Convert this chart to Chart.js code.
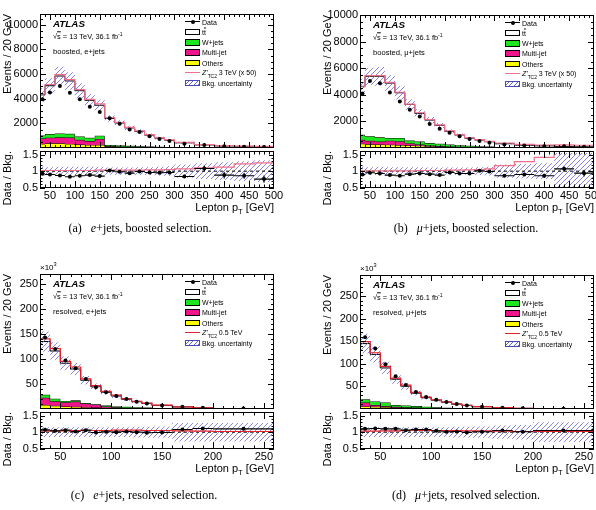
<!DOCTYPE html>
<html>
<head>
<meta charset="utf-8">
<script src="https://cdn.jsdelivr.net/npm/chart.js@4.4.0/dist/chart.umd.min.js"></script>
<style>
  html, body { margin: 0; padding: 0; background: #fff; }
  body { position: relative; width: 596px; height: 510px; overflow: hidden;
         font-family: "Liberation Sans", Arial, Helvetica, sans-serif; color: #000; }
  canvas { position: absolute; }
  .t { position: absolute; white-space: nowrap; line-height: 1; }
  sub, sup { font-size: 70%; line-height: 0; }
</style>
</head>
<body>
<script>
// ---- binning and axis labels ----
const boostEdges = [30, 40, 60, 80, 100, 120, 140, 160, 180, 200, 220, 240, 260, 280, 300, 340, 380, 420, 460, 500];
const resEdges = [30, 40, 50, 60, 70, 80, 90, 100, 110, 120, 130, 140, 160, 180, 200, 260];
const boostXLabels = [50, 100, 150, 200, 250, 300, 350, 400, 450, 500];
const resXLabels = [50, 100, 150, 200, 250];
const boostYLabels = [2000, 4000, 6000, 8000, 10000];
const resYLabels = [50, 100, 150, 200, 250];
const ratioYLabels = [0.5, 1, 1.5];

// ---- (a) e+jets boosted, events ----
const eBoostTtbar  = [3300, 3920, 4660, 4290, 3720, 3040, 2470, 2150, 1820, 1455, 1205, 935, 710, 550, 370, 215, 145, 115, 90];
const eBoostWjets  = [240, 290, 310, 300, 270, 270, 260, 90, 80, 70, 60, 50, 40, 30, 20, 15, 10, 8, 5];
const eBoostMulti  = [440, 460, 490, 520, 380, 310, 490, 8, 6, 5, 4, 3, 2, 2, 1, 1, 1, 0, 0];
const eBoostOthers = [330, 380, 380, 330, 280, 250, 250, 150, 120, 100, 80, 60, 50, 40, 30, 20, 12, 8, 5];
const eBoostData   = [3950, 4500, 5030, 4480, 3960, 3350, 2920, 2420, 1960, 1500, 1290, 960, 730, 570, 350, 250, 150, 110, 75];
const eBoostRatio  = [0.92, 0.90, 0.87, 0.83, 0.86, 0.88, 0.85, 1.02, 0.98, 0.94, 0.99, 0.96, 0.95, 0.96, 0.84, 1.08, 0.88, 0.86, 0.76];
const eBoostRatioErr = [0.015, 0.015, 0.015, 0.015, 0.015, 0.02, 0.02, 0.02, 0.02, 0.025, 0.03, 0.03, 0.035, 0.04, 0.05, 0.08, 0.1, 0.09, 0.11];
const eBoostUnc    = [0.13, 0.12, 0.13, 0.13, 0.13, 0.13, 0.13, 0.11, 0.11, 0.11, 0.12, 0.12, 0.13, 0.15, 0.2, 0.24, 0.27, 0.3, 0.33];
const eBoostSig    = [1.02, 1.02, 1.02, 1.02, 1.02, 1.02, 1.03, 1.03, 1.03, 1.03, 1.03, 1.04, 1.04, 1.05, 1.07, 1.1, 1.12, 1.22, 1.25];

// ---- (b) mu+jets boosted ----
const muBoostTtbar  = [3610, 4510, 4590, 4130, 3395, 2715, 2110, 1730, 1380, 980, 765, 570, 462, 364, 246, 162, 125, 97, 73];
const muBoostWjets  = [380, 340, 320, 200, 245, 190, 220, 190, 170, 150, 120, 100, 80, 60, 40, 25, 18, 12, 8];
const muBoostMulti  = [300, 260, 210, 300, 290, 170, 100, 40, 30, 20, 15, 10, 8, 6, 4, 3, 2, 1, 1];
const muBoostOthers = [320, 280, 270, 250, 220, 195, 170, 140, 120, 100, 80, 60, 50, 40, 30, 20, 15, 10, 8];
const muBoostData   = [4100, 5030, 4860, 4170, 3490, 2880, 2370, 1800, 1440, 1150, 880, 680, 520, 400, 270, 185, 135, 125, 85];
const muBoostRatio  = [0.90, 0.95, 0.93, 0.88, 0.86, 0.91, 0.93, 0.91, 0.88, 0.96, 0.93, 0.93, 1.01, 0.99, 0.86, 0.90, 0.86, 1.07, 0.94];
const muBoostRatioErr = [0.015, 0.015, 0.015, 0.015, 0.015, 0.02, 0.02, 0.02, 0.02, 0.025, 0.03, 0.03, 0.035, 0.04, 0.04, 0.05, 0.06, 0.07, 0.1];
const muBoostUnc    = [0.13, 0.12, 0.13, 0.12, 0.12, 0.12, 0.12, 0.11, 0.11, 0.11, 0.11, 0.11, 0.12, 0.13, 0.2, 0.22, 0.24, 0.55, 0.55];
const muBoostSig    = [1.01, 1.01, 1.01, 1.01, 1.01, 1.01, 1.02, 1.02, 1.02, 1.03, 1.03, 1.04, 1.05, 1.07, 1.17, 1.29, 1.42, 1.95, 2.3];

// ---- (c) e+jets resolved, x10^3 events ----
const eResTtbar  = [106.5, 95.4, 75.4, 62.6, 45.3, 34.8, 26.5, 21.0, 15.1, 10.8, 8.4, 5.3, 3.0, 1.55, 0.72];
const eResWjets  = [6.0, 5.2, 2.6, 2.6, 1.3, 0.8, 2.0, 1.6, 1.9, 1.7, 1.4, 1.0, 0.6, 0.35, 0.15];
const eResMulti  = [14.5, 9.0, 8.5, 10.4, 7.2, 5.9, 2.6, 1.5, 1.0, 0.8, 0.5, 0.3, 0.15, 0.1, 0.05];
const eResOthers = [8.0, 6.4, 5.0, 4.4, 3.7, 3.0, 2.4, 1.9, 1.5, 1.2, 0.9, 0.6, 0.35, 0.2, 0.08];
const eResData   = [143, 120, 97, 81.5, 60, 43.5, 33.5, 26, 19.8, 14.5, 11.0, 7.1, 4.4, 2.45, 1.1];
const eResRatio  = [1.07, 1.04, 1.06, 1.02, 1.06, 0.99, 1.01, 1.0, 1.02, 1.0, 0.98, 0.99, 1.08, 1.11, 1.10];
const eResRatioErr = [0.005, 0.005, 0.006, 0.006, 0.007, 0.008, 0.01, 0.01, 0.012, 0.014, 0.016, 0.015, 0.02, 0.025, 0.03];
const eResUnc    = [0.15, 0.15, 0.15, 0.15, 0.15, 0.15, 0.15, 0.15, 0.15, 0.16, 0.16, 0.17, 0.28, 0.28, 0.28];
const eResSig    = [1.04, 1.04, 1.04, 1.05, 1.05, 1.05, 1.05, 1.06, 1.06, 1.06, 1.05, 1.05, 1.04, 1.03, 1.02];

// ---- (d) mu+jets resolved, x10^3 events ----
const muResTtbar  = [123.3, 104.3, 76.5, 57.3, 42.5, 28.5, 20.0, 15.7, 12.1, 8.65, 6.4, 4.0, 2.22, 1.13, 0.54];
const muResWjets  = [7.2, 8.0, 8.0, 3.7, 4.0, 3.4, 2.6, 2.0, 1.5, 1.1, 0.8, 0.5, 0.3, 0.15, 0.06];
const muResMulti  = [8.7, 3.7, 2.2, 1.4, 1.0, 0.7, 0.5, 0.3, 0.2, 0.15, 0.1, 0.06, 0.03, 0.02, 0.01];
const muResOthers = [5.8, 5.0, 4.3, 3.6, 3.0, 2.4, 1.9, 1.5, 1.2, 0.9, 0.7, 0.45, 0.25, 0.15, 0.06];
const muResData   = [159, 134, 99, 72.5, 53, 37.7, 26.8, 20.3, 15.6, 10.9, 8.0, 5.0, 2.9, 1.45, 0.7];
const muResRatio  = [1.10, 1.11, 1.10, 1.10, 1.06, 1.08, 1.08, 1.04, 1.01, 1.02, 0.99, 1.01, 1.05, 1.01, 1.05];
const muResRatioErr = [0.005, 0.005, 0.006, 0.006, 0.007, 0.008, 0.01, 0.01, 0.012, 0.014, 0.016, 0.015, 0.02, 0.025, 0.03];
const muResUnc    = [0.15, 0.15, 0.15, 0.15, 0.15, 0.15, 0.15, 0.15, 0.15, 0.16, 0.16, 0.17, 0.2, 0.22, 0.3];
const muResSig    = [1.03, 1.03, 1.04, 1.04, 1.05, 1.05, 1.05, 1.05, 1.05, 1.05, 1.04, 1.04, 1.03, 1.02, 1.02];

const GREEN = '#1ee61e', PINK = '#f0148c', YELLOW = '#ffff00', HATCH = '#6666d4';
const RMIN = 0.49, RMAX = 1.61;

Chart.defaults.font.family = '"Liberation Sans", Arial, Helvetica, sans-serif';
Chart.defaults.font.size = 11;
Chart.defaults.color = '#000';

function addCanvas(x, y, w, h) {
  const c = document.createElement('canvas');
  c.width = w; c.height = h;
  c.style.left = x + 'px'; c.style.top = y + 'px';
  document.body.appendChild(c);
  return c;
}
function stepPts(edges, vals) {
  const pts = vals.map((v, i) => ({ x: edges[i], y: v }));
  pts.push({ x: edges[edges.length - 1], y: vals[vals.length - 1] });
  return pts;
}
function binMid(edges) { return edges.slice(1).map((e, i) => (e + edges[i]) / 2); }
function between(min, max, step) {
  const out = [];
  for (let k = Math.ceil(min / step - 1e-9); k * step <= max + 1e-9; k++) out.push(+(k * step).toFixed(6));
  return out;
}
function makeHatch() {
  const c = document.createElement('canvas');
  c.width = c.height = 5;
  const g = c.getContext('2d');
  g.strokeStyle = HATCH; g.lineWidth = 0.8;
  g.beginPath();
  g.moveTo(-1, 6); g.lineTo(6, -1);
  g.moveTo(-1, 1); g.lineTo(1, -1);
  g.moveTo(4, 6); g.lineTo(6, 4);
  g.stroke();
  return g.createPattern(c, 'repeat');
}

// box + inward ticks on all four sides, ROOT style
function frame(cfg) {
  return {
    id: 'frame',
    afterDraw(chart) {
      const { ctx, chartArea: a, scales } = chart;
      const xs = scales.x, ys = scales.y;
      ctx.save();
      ctx.strokeStyle = '#000'; ctx.lineWidth = 1;
      ctx.beginPath();
      const xt = (vals, len) => vals.forEach(v => {
        if (v <= xs.min || v >= xs.max) return;
        const p = Math.round(xs.getPixelForValue(v)) + 0.5;
        ctx.moveTo(p, a.bottom); ctx.lineTo(p, a.bottom - len);
        ctx.moveTo(p, a.top); ctx.lineTo(p, a.top + len);
      });
      const yt = (vals, len) => vals.forEach(v => {
        if (v <= ys.min || v >= ys.max) return;
        const p = Math.round(ys.getPixelForValue(v)) + 0.5;
        ctx.moveTo(a.left, p); ctx.lineTo(a.left + len, p);
        ctx.moveTo(a.right, p); ctx.lineTo(a.right - len, p);
      });
      xt(cfg.xMinor, cfg.xLen / 2); xt(cfg.xMajor, cfg.xLen);
      yt(cfg.yMinor, cfg.yLen / 2); yt(cfg.yMajor, cfg.yLen);
      ctx.stroke();
      ctx.strokeRect(Math.round(a.left) + 0.5, Math.round(a.top) + 0.5,
                     Math.round(a.right - a.left) - 1, Math.round(a.bottom - a.top) - 1);
      ctx.restore();
    }
  };
}

const errBars = {
  id: 'errbars',
  afterDatasetsDraw(chart) {
    const { ctx, chartArea: a } = chart;
    chart.data.datasets.forEach((ds, i) => {
      if (!ds.yErr) return;
      const xs = chart.scales.x, ys = chart.scales.y;
      ctx.save();
      ctx.beginPath(); ctx.rect(a.left, a.top, a.right - a.left, a.bottom - a.top); ctx.clip();
      ctx.strokeStyle = '#000'; ctx.lineWidth = 1.1;
      ctx.beginPath();
      ds.data.forEach((pt, j) => {
        const px = xs.getPixelForValue(pt.x), py = ys.getPixelForValue(pt.y);
        ctx.moveTo(xs.getPixelForValue(ds.xLo[j]), py); ctx.lineTo(xs.getPixelForValue(ds.xHi[j]), py);
        ctx.moveTo(px, ys.getPixelForValue(pt.y - ds.yErr[j])); ctx.lineTo(px, ys.getPixelForValue(pt.y + ds.yErr[j]));
      });
      ctx.stroke();
      ctx.restore();
    });
  }
};

function drawPanel(P) {
  const AX = 40, PT = 9, PR = 16, RPT = 6, XH = 17;
  const fw = P.fr - P.fl;
  const xmin = P.edges[0], xmax = P.edges[P.edges.length - 1];
  const c1 = P.others.slice();
  const c2 = c1.map((v, i) => v + P.multi[i]);
  const c3 = c2.map((v, i) => v + P.wjets[i]);
  const tot = c3.map((v, i) => v + P.ttbar[i]);
  const mid = binMid(P.edges);
  const hatch = makeHatch();
  const xMinor = between(xmin, xmax, 10);
  const step = (vals, extra) => Object.assign({ data: stepPts(P.edges, vals), stepped: 'before', pointRadius: 0,
    borderWidth: 1, borderColor: '#000', fill: false }, extra);
  const base = (pt, pb) => ({ responsive: false, animation: false, devicePixelRatio: 1, events: [],
    layout: { padding: { left: 0, top: pt, right: PR, bottom: pb } },
    plugins: { legend: { display: false }, tooltip: { enabled: false } } });
  const yAxis = (min, max, labels) => ({ type: 'linear', min, max,
    grid: { display: false, drawTicks: false }, border: { display: false },
    ticks: { padding: 2, callback: v => String(v) },
    afterBuildTicks: s => { s.ticks = labels.map(v => ({ value: v })); },
    afterFit: s => { s.width = AX; s.paddingTop = 0; s.paddingBottom = 0; } });

  // main pad
  const mh = P.fm - P.ft;
  new Chart(addCanvas(P.fl - AX, P.ft - PT, AX + fw + PR, PT + mh + 1), {
    type: 'line',
    data: { datasets: [
      { data: mid.map((x, i) => ({ x, y: P.data[i] })), showLine: false, pointRadius: 2,
        pointBackgroundColor: '#000', pointBorderWidth: 0, order: 0 },
      step(tot.map((v, i) => v * P.sig[i]), { borderColor: P.sigColor, borderWidth: 1.2, order: 1 }),
      step(tot.map((v, i) => v * (1 + P.unc[i])), { borderWidth: 0, fill: { target: 3 }, backgroundColor: hatch, order: 2 }),
      step(tot.map((v, i) => v * (1 - P.unc[i])), { borderWidth: 0, order: 3 }),
      step(tot, { fill: { target: 5 }, backgroundColor: '#fff', order: 4 }),
      step(c3, { fill: { target: 6 }, backgroundColor: GREEN, order: 5 }),
      step(c2, { fill: { target: 7 }, backgroundColor: PINK, order: 6 }),
      step(c1, { fill: 'origin', backgroundColor: YELLOW, order: 7 })
    ] },
    options: Object.assign(base(PT, 1), { scales: {
      x: { type: 'linear', min: xmin, max: xmax, display: false },
      y: yAxis(0, P.ymax, P.yLabels)
    } }),
    plugins: [frame({ xMajor: P.xLabels, xMinor, yMajor: P.yLabels, yMinor: between(0, P.ymax, P.yMinorStep), xLen: 6, yLen: 6 })]
  });

  // ratio pad
  const rh = P.fb - P.fm;
  new Chart(addCanvas(P.fl - AX, P.fm - RPT, AX + fw + PR, RPT + rh + XH), {
    type: 'line',
    data: { datasets: [
      { data: mid.map((x, i) => ({ x, y: P.ratio[i] })), yErr: P.ratioErr,
        xLo: P.edges.slice(0, -1), xHi: P.edges.slice(1),
        showLine: false, pointRadius: 2, pointBackgroundColor: '#000', pointBorderWidth: 0, order: 0 },
      step(P.sig, { borderColor: P.sigColor, borderWidth: 1.2, order: 1 }),
      { data: [{ x: xmin, y: 1 }, { x: xmax, y: 1 }], borderColor: '#000', borderWidth: 1,
        borderDash: [3, 3], pointRadius: 0, fill: false, order: 2 },
      step(P.unc.map(u => 1 + u), { borderWidth: 0, fill: { target: 4 }, backgroundColor: hatch, order: 3 }),
      step(P.unc.map(u => 1 - u), { borderWidth: 0, order: 4 })
    ] },
    options: Object.assign(base(RPT, 0), { scales: {
      x: { type: 'linear', min: xmin, max: xmax,
        grid: { display: false, drawTicks: false }, border: { display: false },
        ticks: { padding: 1, maxRotation: 0, autoSkip: false, callback: v => String(v) },
        afterBuildTicks: s => { s.ticks = P.xLabels.map(v => ({ value: v })); },
        afterFit: s => { s.height = XH; s.paddingLeft = 0; s.paddingRight = 0; } },
      y: yAxis(RMIN, RMAX, ratioYLabels)
    } }),
    plugins: [frame({ xMajor: P.xLabels, xMinor, yMajor: ratioYLabels, yMinor: between(RMIN, RMAX, 0.1), xLen: 7, yLen: 5 }), errBars]
  });

  // texts
  vtitle('Events / 20 GeV', P.fl - 33, P.ft, 11);
  vtitle('Data / Bkg.', P.fl - 33, P.fm, 11);
  put('Lepton p<sub>T</sub> [GeV]', P.fr - 200, P.fb + 13.5, 'width:200px;text-align:right;font-size:11px;');
  put('<b><i>ATLAS</i></b>', P.fl + 13, P.ft + 9.5, 'font-size:9.8px;transform:translateY(-50%);');
  put('&radic;<span style="text-decoration:overline">s</span> = 13 TeV, 36.1 fb<sup>-1</sup>', P.fl + 13, P.ft + 23.3, 'font-size:7.4px;transform:translateY(-50%);');
  put(P.selLabel, P.fl + 13, P.ft + 37.7, 'font-size:7.6px;transform:translateY(-50%);');
  if (P.scaleLabel) put('&times;10<sup>3</sup>', P.fl, P.ft - 6, 'font-size:8px;transform:translateY(-50%);');
  put(P.caption, P.capX, P.capY, 'font-family:"Liberation Serif","Times New Roman",serif;font-size:12px;transform:translate(-50%,-50%);');
  legend(P.fr - 89, P.ft + 7.7, P);
}

function put(html, x, y, style) {
  const d = document.createElement('div');
  d.className = 't';
  d.innerHTML = html;
  d.style.cssText = 'left:' + x + 'px;top:' + y + 'px;' + (style || '');
  document.body.appendChild(d);
  return d;
}
function vtitle(text, cx, top, size) {
  const W = 200;
  put(text, cx - size / 2, top + W, 'width:' + W + 'px;text-align:right;font-size:' + size + 'px;line-height:' + size +
    'px;transform-origin:0 0;transform:rotate(-90deg);');
}
function legend(x0, y0, P) {
  const dy = 10.2, fs = 'font-size:7px;transform:translateY(-50%);';
  const box = (i, bg, border) => put('', x0, y0 + dy * i - 3, 'width:15px;height:6.5px;box-sizing:border-box;border:1px solid ' +
    (border || '#000') + ';background:' + bg + ';');
  const label = (i, html) => put(html, x0 + 17, y0 + dy * i, fs);
  put('', x0, y0 - 0.5, 'width:15px;height:1px;background:#000;');
  put('', x0 + 5.5, y0 - 2, 'width:4px;height:4px;border-radius:50%;background:#000;');
  label(0, 'Data');
  box(1, '#fff'); label(1, 't<span style="text-decoration:overline">t</span>');
  box(2, GREEN); label(2, 'W+jets');
  box(3, PINK); label(3, 'Multi-jet');
  box(4, YELLOW); label(4, 'Others');
  put('', x0, y0 + dy * 5 - 0.75, 'width:15px;height:1.5px;background:' + P.sigColor + ';');
  label(5, P.sigLabel);
  box(6, 'repeating-linear-gradient(-45deg,' + HATCH + ' 0 1px,#fff 1px 3.2px)', '#4a4ab4');
  label(6, 'Bkg. uncertainty');
}

const sigBoost = '<i>Z\'</i><sub>TC2</sub> 3 TeV (x 50)';
const sigRes = '<i>Z\'</i><sub>TC2</sub> 0.5 TeV';

drawPanel({ fl: 40, fr: 274, ft: 14, fm: 151, fb: 188, edges: boostEdges, xLabels: boostXLabels,
  ymax: 10870, yLabels: boostYLabels, yMinorStep: 500,
  ttbar: eBoostTtbar, wjets: eBoostWjets, multi: eBoostMulti, others: eBoostOthers, data: eBoostData,
  ratio: eBoostRatio, ratioErr: eBoostRatioErr, unc: eBoostUnc, sig: eBoostSig, sigColor: '#f0708c',
  sigLabel: sigBoost, selLabel: 'boosted, e+jets',
  caption: '(a)&nbsp;&nbsp; <i>e</i>+jets, boosted selection.', capX: 140, capY: 228 });

drawPanel({ fl: 360, fr: 594, ft: 15, fm: 151, fb: 188, edges: boostEdges, xLabels: boostXLabels,
  ymax: 10000, yLabels: boostYLabels, yMinorStep: 500,
  ttbar: muBoostTtbar, wjets: muBoostWjets, multi: muBoostMulti, others: muBoostOthers, data: muBoostData,
  ratio: muBoostRatio, ratioErr: muBoostRatioErr, unc: muBoostUnc, sig: muBoostSig, sigColor: '#f0708c',
  sigLabel: sigBoost, selLabel: 'boosted, &mu;+jets',
  caption: '(b)&nbsp;&nbsp; <i>&mu;</i>+jets, boosted selection.', capX: 466, capY: 228 });

drawPanel({ fl: 40, fr: 274, ft: 274, fm: 412, fb: 449, edges: resEdges, xLabels: resXLabels,
  ymax: 270, yLabels: resYLabels, yMinorStep: 10, scaleLabel: true,
  ttbar: eResTtbar, wjets: eResWjets, multi: eResMulti, others: eResOthers, data: eResData,
  ratio: eResRatio, ratioErr: eResRatioErr, unc: eResUnc, sig: eResSig, sigColor: '#e8202a',
  sigLabel: sigRes, selLabel: 'resolved, e+jets',
  caption: '(c)&nbsp;&nbsp; <i>e</i>+jets, resolved selection.', capX: 144, capY: 495 });

drawPanel({ fl: 360, fr: 594, ft: 275, fm: 412, fb: 449, edges: resEdges, xLabels: resXLabels,
  ymax: 297, yLabels: resYLabels, yMinorStep: 10, scaleLabel: true,
  ttbar: muResTtbar, wjets: muResWjets, multi: muResMulti, others: muResOthers, data: muResData,
  ratio: muResRatio, ratioErr: muResRatioErr, unc: muResUnc, sig: muResSig, sigColor: '#e8202a',
  sigLabel: sigRes, selLabel: 'resolved, &mu;+jets',
  caption: '(d)&nbsp;&nbsp; <i>&mu;</i>+jets, resolved selection.', capX: 466, capY: 495 });
</script>
</body>
</html>
